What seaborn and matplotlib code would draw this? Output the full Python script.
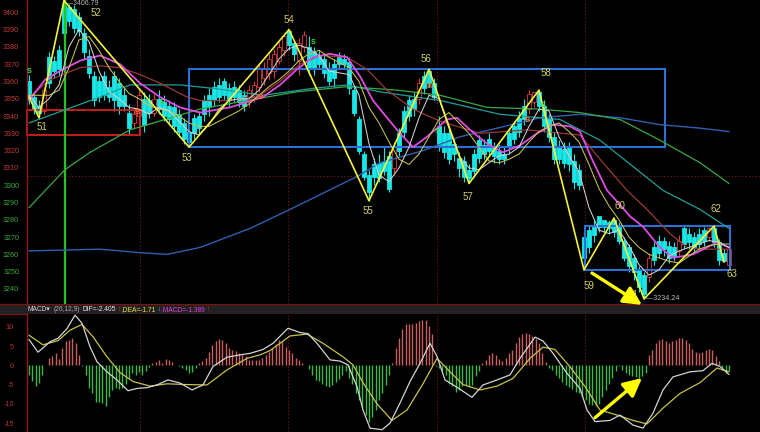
import numpy as np
import matplotlib
matplotlib.use("Agg")
import matplotlib.pyplot as plt
from matplotlib.patches import Rectangle
import seaborn as sns

# ---------------- candle data (index = trading bar) ----------------
opens = [3360,3351,3346,3343,3374,3372,3378,3404,3403,3402,
         3397,3388,3375,3363,3360,3363,3357,3363,3359,3352,
         3342,3336,3340,3350,3349,3342,3350,3348,3346,3345,
         3341,3336,3331,3339,3340,3349,3352,3357,3358,3360,
         3356,3357,3355,3352,3348,3351,3357,3362,3365,3366,
         3372,3378,3389,3382,3372,3380,3380,3377,3375,3373,
         3368,3370,3374,3373,3371,3355,3338,3318,3306,3312,
         3313,3314,3317,3310,3330,3343,3349,3350,3350,3363,
         3366,3359,3334,3330,3330,3324,3316,3314,3309,3318,
         3326,3323,3327,3322,3320,3318,3330,3334,3339,3346,
         3344,3348,3354,3346,3338,3328,3322,3321,3322,3314,
         3309,3270,3274,3276,3282,3280,3279,3280,3276,3268,
         3264,3258,3251,3248,3247,3264,3268,3268,3265,3264,
         3262,3275,3272,3270,3272,3274,3270,3275,3267,3261,
         3254]
highs = [3364,3353,3349,3357,3377,3375,3381,3406.79,3405,3404,
         3400,3391,3379,3366,3363,3366,3361,3366,3362,3356,
         3347,3345,3355,3354,3353,3353,3355,3352,3349,3348,
         3344,3339,3333,3341,3343,3352,3356,3360,3362,3362,
         3359,3360,3358,3355,3358,3360,3370,3371,3376,3379,
         3383,3388,3390,3384,3385,3389,3386,3380,3378,3376,
         3371,3373,3377,3376,3374,3357,3340,3320,3309,3316,
         3318,3322,3320,3325,3333,3346,3352,3354,3362,3366,
         3367,3362,3340,3334,3333,3327,3319,3317,3312,3321,
         3329,3327,3330,3325,3324,3322,3333,3337,3343,3350,
         3355,3354,3355,3349,3341,3331,3326,3325,3325,3318,
         3312,3274,3277,3280,3281,3280,3280,3281,3279,3270,
         3266,3260,3253,3250,3260,3267,3271,3270,3268,3267,
         3271,3277,3275,3273,3275,3276,3276,3276.4,3269,3263,
         3266]
lows = [3347,3341,3339,3341,3356,3362,3363,3384,3392,3388,
        3386,3373,3362,3346,3348,3349,3348,3343,3341,3343,
        3329,3333,3337,3331,3339,3340,3341,3337,3335,3331,
        3328,3324,3322,3327,3329,3337,3340,3346,3348,3349,
        3346,3348,3345,3343,3345,3348,3354,3358,3361,3362,
        3370,3375,3378,3372,3364,3377,3364,3364,3368,3362,
        3358,3357,3367,3368,3353,3340,3318,3303,3291,3300,
        3302,3306,3296,3306,3317,3328,3337,3340,3347,3353,
        3357,3349,3320,3316,3312,3314,3305,3302,3301,3305,
        3313,3315,3317,3313,3312,3312,3318,3324,3328,3335,
        3341,3345,3343,3331,3325,3312,3312,3310,3308,3298,
        3297,3251,3261,3267,3273,3273,3272,3270,3266,3256,
        3250,3245,3238,3234.24,3244,3254,3258,3259,3255,3256,
        3259,3263,3263,3261,3262,3265,3268,3264,3254,3255.6,
        3254]
closes = [3350,3344,3342,3355,3359,3366,3367,3388,3395,3391,
          3389,3377,3365,3349,3351,3352,3351,3349,3346,3346,
          3333,3341,3352,3335,3342,3350,3344,3340,3338,3334,
          3331,3327,3325,3330,3333,3341,3345,3349,3351,3352,
          3349,3351,3348,3346,3355,3358,3367,3368,3373,3376,
          3380,3386,3381,3376,3382,3387,3367,3368,3370,3365,
          3360,3362,3370,3370,3356,3342,3320,3305,3296,3305,
          3304,3308,3298,3322,3320,3331,3340,3344,3359,3356,
          3359,3351,3323,3319,3315,3318,3310,3305,3304,3308,
          3316,3318,3320,3317,3315,3315,3322,3327,3331,3338,
          3353,3354,3346,3334,3328,3315,3315,3313,3312,3302,
          3300,3258,3264,3271,3276,3276,3275,3273,3268,3258,
          3253,3250,3241,3237,3258,3257,3261,3263,3258,3259,
          3268,3266,3267,3264,3266,3268,3275,3267,3257,3256,
          3263]

# ---------------- moving averages ----------------
ma5_v = [3352,3345,3350,3358,3380,3390,3383,3366,3354,3350,3345,3344,3341,3345,3343,
         3337,3331,3329,3335,3344,3349,3350,3350,3355,3364,3373,3379,3381,3379,3375,
         3366,3365,3364,3352,3324,3306,3302,3310,3322,3339,3352,3350,3333,3317,3310,
         3309,3313,3317,3318,3322,3334,3344,3343,3328,3317,3308,3287,3274,3272,3274,
         3265,3254,3248,3251,3259,3262,3264,3266,3268,3267,3264]
ma10_v = [3352,3352,3352,3355,3368,3384,3386,3378,3368,3360,3353,3350,3346,3344,3343,
          3340,3336,3334,3334,3337,3340,3343,3347,3352,3357,3361,3366,3372,3376,3378,
          3374,3371,3368,3360,3345,3336,3325,3315,3312,3318,3328,3338,3342,3336,3330,
          3322,3314,3313,3315,3318,3325,3331,3334,3336,3331,3325,3312,3298,3288,3280,
          3270,3264,3260,3258,3256,3255,3259,3263,3265,3266,3266]
ma20_i = [0,3.2,6.2,10.2,14.2,18.2,22.2,26.2,30.2,34.2,40.2,46.8,50.2,53.6,56.8,60.2,63.6,
          66.2,68.8,71.6,74.2,76.8,79.6,83.6,85.6,88.2,91.6,94.8,98.2,101.6,104.8,108.2,
          110.2,112.6,115.6,117.8,120.2,122.8,126.2,128.8,132.8,135.6,137.6,140]
ma20_v = [3349,3361,3366,3372,3375,3370,3359,3351,3345,3342,3345,3351,3358,3367,3374,3376,
          3374,3363,3349,3339,3330,3322,3328,3338,3339,3332,3324,3319,3323,3330,3335,3334,
          3331,3315,3297,3290,3282,3276,3264,3258,3260,3264,3267,3264]
ma30_i = [0,4.2,10.2,14.2,18.2,22.2,26.2,31.6,34.2,40.2,46.2,50.2,54.2,58.2,63.6,67.6,71.6,
          76.8,82.2,90.2,99.6,110.2,114.2,119.6,123.6,128.2,131.6,134.8,140]
ma30_v = [3351,3361,3368,3369,3368,3364,3359,3351,3349,3349,3352,3360,3370,3375,3374,3367,
          3355,3344,3337,3330,3332,3329,3315,3297,3286,3272,3264,3263,3263]
ma60_i = [0,7.6,14.2,20.2,30.2,36.8,46.8,56.8,63.6,70.2,82.2,94.2,106.2,114.2,126.8,134.2,140]
ma60_v = [3336,3344,3351,3358,3358,3356,3352,3356,3358,3354,3349,3341,3338,3326,3297,3286,3275]
ma120_i = [0,7.2,12.2,20.2,34.2,43.6,53.6,63.6,73.6,82.2,91.6,102.2,110.2,118.2,126.2,134.2,140]
ma120_v = [3287,3309,3319,3332,3344,3349,3354,3357,3355,3352,3345,3344,3342,3338,3326,3313,3301]
ma250_i = [0,14.2,22.2,27.6,34.2,44.2,52.2,65.6,70.2,78.8,86.2,92.2,102.2,110.2,118.2,126.2,134.2,140]
ma250_v = [3262,3263,3261,3260,3264,3275,3286,3305,3313,3320,3328,3332,3339,3341,3339,3335,3333,3331]

# ---------------- zigzag wave points ----------------
zz_i = [0, 2, 7, 32, 52, 68, 80, 88, 102, 111, 117, 123, 137, 139]
zz_p = [3351, 3339, 3406.79, 3322, 3390, 3291, 3367, 3301, 3355, 3251, 3281, 3234.24, 3276.4, 3255.6]
zz_lab = ['', '51', '52', '53', '54', '55', '56', '57', '58', '59', '60', '61', '62', '63']

# boxes: (start bar, end bar, low price, high price)
blue_boxes = [(32, 127.2, 3322, 3367), (111.2, 140.2, 3251, 3276.4)]
red_box = (-0.4, 22.2, 3329, 3343.5)
mark_bar = 7.2
sep_bars = [22.1, 51.8, 81.5, 111.2]
ref_price = 3305.5

# signal marks
sig_i = [0, 21.6, 26.6, 46.2, 56.8, 80, 81.6, 99.6, 102.8]
sig_p = [3365.5, 3342.3, 3348, 3351, 3382.8, 3356.8, 3331, 3337.7, 3346]
sig_t = ['S', 'B', 'S', 'B', 'S', 'B', 'S', 'B', 'S']

# arrows (bar, value)
arrow_main = [(112.6, 3249.2), (122.6, 3230.8)]
arrow_macd = [(113.2, -13.6), (122.6, -3.3)]

# ---------------- MACD ----------------
macd_hist = [-2.5,-4.0,-5.3,-4.5,-2.5,
             0,
             2.0,2.5,3.1,1.7,4.6,6.3,6.5,7.0,5.7,2.7,
             -0.3,-2.5,-6.0,-7.3,-9.5,-9.5,-9.8,-10.6,-8.2,-6.4,-6.0,
             -6.2,-6.0,-4.8,-3.5,-2.0,-2.5,-1.8,-2.4,-1.5,-0.5,
             0.5,0.9,1.3,0.5,1.7,1.3,0.9,
             0,
             -0.3,-0.8,-1.2,-2.0,-1.8,-0.6,
             0.5,1.0,2.0,3.5,5.3,6.2,6.8,6.5,5.7,4.6,3.9,3.8,3.1,2.7,2.3,1.4,1.4,1.4,1.4,
             1.8,2.7,3.4,4.6,5.5,6.5,6.2,4.8,4.0,3.1,1.8,1.4,0.5,0.2,
             -1.0,-2.5,-3.8,-4.2,-4.8,-5.4,-5.7,-5.1,-4.3,-3.6,-2.5,-1.6,-3.4,-4.8,-7.3,-9.1,
             -10.8,-12.9,-14.6,-13.3,-11.6,-9.1,-7.3,-5.1,-2.5,
             0.5,4.6,7.2,9.3,10.6,10.8,10.6,11.0,11.5,11.7,11.8,10.1,8.0,
             -0.3,-0.8,-1.6,-2.5,-4.8,-5.5,-6.8,-6.4,-5.5,-5.1,-5.7,-5.1,-2.9,-1.5,
             0.5,1.4,2.7,3.1,2.7,1.7,
             1.2,1.8,3.1,3.9,5.7,7.3,8.2,8.4,8.2,7.7,6.8,5.7,3.1,0.9,
             -0.8,-1.2,-2.5,-3.4,-4.3,-5.1,-5.7,-6.2,-6.8,-7.3,-8.3,-9.1,-10.0,-10.3,-10.6,
             -10.0,-8.3,-6.4,-4.8,-3.4,-1.6,-0.3,-1.2,-2.0,-2.5,-2.9,-3.1,-3.4,-2.9,-2.0,
             2.7,3.9,5.7,6.5,6.7,6.2,5.7,6.2,6.5,7.0,7.0,6.5,5.7,4.3,3.4,3.1,3.4,3.9,4.3,3.9,2.3,1.0,
             -1.2,-1.9,-1.4]
dif_i = [0,1.8,4.2,5.8,7.6,9.2,10.6,12.2,13.6,15.6,17.6,19.8,21.6,23.6,25.6,27.8,30.2,32.6,34.8,36.8,
         39.6,42.2,44.2,46.8,48.8,51.8,54.2,55.8,57.6,60.2,62.2,63.8,65.6,66.8,68.2,70.6,72.2,74.2,76.2,78.2,
         80.2,81.6,83.2,85.6,88.6,90.8,93.6,96.2,98.2,101.2,102.8,104.8,107.6,110.2,111.6,113.2,116.2,118.2,
         120.8,122.8,124.8,126.8,128.8,132.2,134.8,136.6,138.2,140]
dif_v = [6.7,3.4,6.1,7.0,9.5,13.0,10.9,4.8,0.9,-1.7,-3.8,-6.6,-6.0,-5.8,-5.1,-3.8,-4.6,-6.4,-5.1,-0.3,
         2.1,2.7,3.1,4.1,5.7,9.6,8.5,8.2,5.7,1.4,1.1,0.1,-5.5,-11.6,-16.3,-16.7,-15.0,-9.8,-4.2,0.5,
         5.7,2.3,-3.8,-5.7,-8.3,-5.1,-3.8,-2.5,1.8,7.3,6.3,3.1,-2.1,-6.0,-11.6,-14.6,-14.3,-12.9,
         -15.5,-16.3,-12.4,-6.4,-3.0,-1.7,-1.4,0.5,-0.3,-2.4]
dea_i = [0,2.8,5.8,8.2,10.6,12.8,15.6,18.2,20.8,24.2,27.6,31.6,35.6,39.6,43.6,46.2,48.2,52.2,55.6,58.8,
         62.8,64.8,66.8,69.6,72.6,75.6,78.8,81.6,84.2,86.8,90.2,93.6,96.8,100.2,102.8,105.2,108.2,111.2,
         114.2,117.6,120.8,123.6,126.8,130.2,134.2,137.6,140]
dea_v = [7.8,5.3,6.4,9.1,10.6,7.4,2.2,-1.9,-4.2,-5.4,-4.8,-5.0,-5.1,-1.2,1.8,2.7,3.8,7.6,8.1,5.7,
         2.2,0.1,-4.5,-10.0,-14.3,-11.6,-4.8,1.8,-1.7,-5.0,-6.4,-5.4,-3.4,1.8,4.7,4.1,-0.4,-5.5,
         -11.6,-12.9,-14.3,-15.2,-11.1,-7.3,-4.5,-0.7,-1.7]

price_ticks = list(range(3240, 3401, 10))
macd_ticks = [10, 5, 0, -5, -10, -15]

# ---------------- style ----------------
sns.set_style("dark")
plt.rcParams['font.family'] = ['Liberation Sans', 'DejaVu Sans']

W, H = 760, 432
fig = plt.figure(figsize=(W / 100, H / 100), dpi=100)
fig.patch.set_facecolor('black')


def px_axes(left, top, width, height):
    return fig.add_axes([left / W, 1 - (top + height) / H, width / W, height / H])


hdr = px_axes(0, 304, 760, 10)
ax = px_axes(27, 0, 733, 304)
axm = px_axes(27, 314, 733, 118)

GRID = '#6e1212'
AXRED = '#8c1a1a'

for a in (ax, axm):
    a.set_facecolor('black')
    for s in ('top', 'right', 'bottom'):
        a.spines[s].set_visible(False)
    a.spines['left'].set_color(AXRED)
    a.spines['left'].set_linewidth(1.0)
    a.set_xlim(-0.4, 146.2)
    a.set_xticks([])
    a.grid(False)
    for b in sep_bars:
        a.axvline(b, color=GRID, lw=0.7, ls=(0, (1.5, 2)), zorder=0.5)

# header band
hdr.set_facecolor('#222222')
hdr.set_xticks([]); hdr.set_yticks([])
for s in ('left', 'right'):
    hdr.spines[s].set_visible(False)
for s in ('top', 'bottom'):
    hdr.spines[s].set_color('#7a1414')
    hdr.spines[s].set_linewidth(1.0)

# ---------------- main panel ----------------
ax.set_ylim(3231.3, 3407.1)
ax.axhline(ref_price, color=GRID, lw=0.7, ls=(0, (1.5, 2)), zorder=0.5)

ax.set_yticks(price_ticks)
ax.set_yticklabels([str(t) for t in price_ticks])
ax.tick_params(axis='y', length=2.5, width=0.6, color=AXRED, pad=3, labelsize=5.2)
for t, lab in zip(price_ticks, ax.get_yticklabels()):
    lab.set_color('#c43a3a' if t > ref_price else '#3aa83a')

# boxes
for (x0, x1, p0, p1) in blue_boxes:
    ax.add_patch(Rectangle((x0, p0), x1 - x0, p1 - p0, fill=False, ec='#2d6fd8', lw=1.5, zorder=2.5))
ax.add_patch(Rectangle((red_box[0], red_box[2]), red_box[1] - red_box[0], red_box[3] - red_box[2],
                       fill=False, ec='#d42020', lw=1.3, zorder=2.5, clip_on=False))
ax.axvline(mark_bar, color='#22c422', lw=1.6, zorder=2.6)

# moving averages (seaborn line plots)
bars = np.arange(len(closes))
ma_idx = bars[::2]
lines = [
    (ma250_i, ma250_v, '#2f5fb0', 1.0),
    (ma120_i, ma120_v, '#3aa844', 0.9),
    (ma60_i, ma60_v, '#1f9e9a', 0.9),
    (ma30_i, ma30_v, '#9a3a36', 0.9),
    (ma20_i, ma20_v, '#e04ce0', 1.3),
    (list(ma_idx), ma10_v, '#c8c450', 0.75),
    (list(ma_idx), ma5_v, '#d0d0d0', 0.75),
]

# candles
o = np.array(opens, float); c = np.array(closes, float)
hi = np.array(highs, float); lo = np.array(lows, float)
up = c >= o
CYAN = '#19e6e6'
UPC = '#d83c3c'
wick_col = [UPC if u else CYAN for u in up]
ax.vlines(bars, lo, hi, colors=wick_col, lw=0.8, zorder=2)
body_h = np.maximum(np.abs(c - o), 0.4)
ax.bar(bars, body_h, bottom=np.minimum(o, c), width=0.72,
       color=['black' if u else CYAN for u in up],
       edgecolor=[UPC if u else CYAN for u in up], linewidth=0.6, zorder=2.1)

for xi, yv, col, lw in lines:
    sns.lineplot(x=xi, y=yv, ax=ax, color=col, linewidth=lw, estimator=None, sort=False, zorder=3)

# zigzag
sns.lineplot(x=zz_i, y=zz_p, ax=ax, color='#f4f43a', linewidth=1.2, estimator=None, sort=False, zorder=4)
lab_off = [(0, 0), (3, -9), (32, -12), (-2, -11), (0, 10), (-1, -10), (-3, 10), (-1, -14),
           (7, 17), (5, -16), (6, 12), (-11, 4), (2, 17), (8, -12)]
for xi, p, lab, off in zip(zz_i, zz_p, zz_lab, lab_off):
    if lab:
        ax.annotate(lab, (xi, p), xytext=off, textcoords='offset pixels', ha='center', va='center',
                    color='#d0cf62', fontsize=7, zorder=6, annotation_clip=False)

# extreme labels
ax.annotate('\u2014' + f'{zz_p[2]:.2f}', (zz_i[2] + 0.4, zz_p[2]), xytext=(0, 1),
            textcoords='offset pixels', ha='left', va='top',
            color='#b8b8b8', fontsize=5.0, annotation_clip=False)
ax.annotate('\u2014' + f'{zz_p[11]:.2f}', (zz_i[11] + 0.4, zz_p[11]), ha='left', va='center',
            color='#b8b8b8', fontsize=5.2, annotation_clip=False)

# signals
for xi, p, t in zip(sig_i, sig_p, sig_t):
    ax.text(xi, p, t, color='#44dd44' if t == 'S' else '#ff6a30', fontsize=5.2, fontweight='bold',
            ha='center', va='center', zorder=6)

ax.annotate('', xy=arrow_main[1], xytext=arrow_main[0],
            arrowprops=dict(arrowstyle='-|>,head_length=1.1,head_width=0.55', color='#ffff00',
                            lw=2.4, mutation_scale=10, shrinkA=0, shrinkB=0),
            annotation_clip=False, zorder=7)

ax.set_xlabel(''); ax.set_ylabel('')

# ---------------- MACD panel ----------------
axm.set_ylim(-17.3, 13.3)
axm.set_yticks(macd_ticks)
axm.set_yticklabels([str(t) for t in macd_ticks])
axm.tick_params(axis='y', length=2.5, width=0.6, color=AXRED, pad=7, labelsize=5.2, labelcolor='#b83030')

hx = np.arange(len(macd_hist)) * (2.0 / 3.0)
hv = np.array(macd_hist)
axm.vlines(hx, 0, hv, colors=np.where(hv >= 0, '#c86060', '#3cb84a'), lw=1.0, zorder=2)
sns.lineplot(x=dea_i, y=dea_v, ax=axm, color='#c8c24a', linewidth=0.9, estimator=None, sort=False, zorder=3)
sns.lineplot(x=dif_i, y=dif_v, ax=axm, color='#d4d4d4', linewidth=0.9, estimator=None, sort=False, zorder=3)
axm.annotate('', xy=arrow_macd[1], xytext=arrow_macd[0],
             arrowprops=dict(arrowstyle='-|>,head_length=1.1,head_width=0.55', color='#ffff00',
                             lw=2.4, mutation_scale=10, shrinkA=0, shrinkB=0),
             annotation_clip=False, zorder=7)
axm.set_xlabel(''); axm.set_ylabel('')

# header text, laid out one piece after another
yh = 1 - 309.5 / H
parts = [('MACD\u25be', '#d0d0d0', 3), ('(26,12,9)', '#a8a8a8', 2.5), ('DIF=-2.405', '#e6e6e6', 1),
         ('\u2191', '#ff3030', 1), (',DEA=-1.71', '#e8e040', 1), ('\u2193', '#30e0e0', 1),
         (',MACD=-1.389', '#e040e0', 1), ('\u2191', '#ff3030', 0)]
renderer = fig.canvas.get_renderer()
xp = 28.0
for s, col, gap in parts:
    t = fig.text(xp / W, yh, s, color=col, fontsize=4.8, ha='left', va='center')
    bb = t.get_window_extent(renderer)
    xp = bb.x1 + gap

fig.savefig('out.png', dpi=100, facecolor='black')
